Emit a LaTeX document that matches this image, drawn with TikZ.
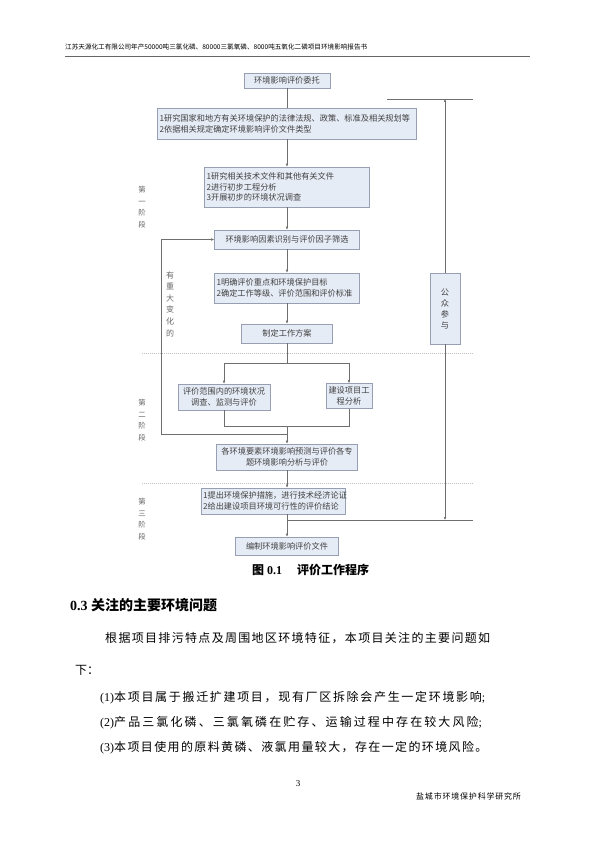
\documentclass[tikz,border=0pt]{standalone}
\usepackage{fontspec}
\setmainfont{Liberation Serif}
\newfontfamily\cjk{Noto Sans CJK SC}
\usepackage[svgnames]{xcolor}
\usetikzlibrary{arrows.meta, calc, positioning}

\definecolor{boxfill}{RGB}{230,236,246}
\definecolor{boxline}{RGB}{150,160,178}
\definecolor{flowline}{RGB}{110,110,110}

\begin{document}
\begin{tikzpicture}[x=1pt, y=-1pt,
    box/.style={draw=boxline, fill=boxfill, line width=0.6pt, inner sep=2pt,
        font=\cjk\fontsize{8.2}{10.8}\selectfont, text=black!75},
    lbox/.style={box, align=left},
    cbox/.style={box, align=center},
    flow/.style={draw=flowline, line width=0.5pt},
    arr/.style={flow, -{Latex[length=3pt,width=2.6pt]}},
    stage/.style={font=\cjk\fontsize{7.4}{11.6}\selectfont, text=black!60, align=center},
    sep/.style={draw=black!25, dash pattern=on 1pt off 1pt, line width=0.4pt},
    body/.style={anchor=west, inner sep=0pt, font=\fontsize{12}{14}\selectfont}]

    \useasboundingbox (0,0) rectangle (595,842);
    \fill[white] (0,0) rectangle (595,842);

    % page header
    \node[anchor=west, inner sep=0pt, font=\cjk\fontsize{6.6}{8}\selectfont] (head) at (65,47)
        {江苏天源化工有限公司年产50000吨三氯化磷、80000三氯氧磷、8000吨五氧化二磷项目环境影响报告书};
    \draw[black!60, line width=0.8pt] (65,56) -- (530,56);

    % flow chart boxes
    \node[cbox, minimum width=86, minimum height=15] (wt) at (287,80.5) {环境影响评价委托};
    \node[lbox, text width=255, minimum height=31] (fg) at (287,123.5)
        {1研究国家和地方有关环境保护的法律法规、政策、标准及相关规划等\\2依据相关规定确定环境影响评价文件类型};
    \node[lbox, text width=161, minimum height=40] (js) at (287,187)
        {1研究相关技术文件和其他有关文件\\2进行初步工程分析\\3开展初步的环境状况调查};
    \node[cbox, minimum width=145, minimum height=19] (sb) at (287,239.5) {环境影响因素识别与评价因子筛选};
    \node[lbox, text width=141, minimum height=30] (mq) at (287,288)
        {1明确评价重点和环境保护目标\\2确定工作等级、评价范围和评价标准};
    \node[cbox, minimum width=91, minimum height=19] (fa) at (287,333.5) {制定工作方案};
    \node[cbox, minimum width=92, minimum height=26] (dc) at (224,397) {评价范围内的环境状况\\调查、监测与评价};
    \node[cbox, minimum width=46, minimum height=25] (gc) at (349,396) {建设项目工\\程分析};
    \node[cbox, minimum width=141, minimum height=26] (yc) at (287,457)
        {各环境要素环境影响预测与评价各专\\题环境影响分析与评价};
    \node[lbox, text width=140, minimum height=26] (tc) at (273,501)
        {1提出环境保护措施，进行技术经济论证\\2给出建设项目环境可行性的评价结论};
    \node[cbox, minimum width=103, minimum height=18] (bz) at (287,546) {编制环境影响评价文件};
    \node[cbox, minimum width=30, minimum height=71, font=\cjk\fontsize{8.2}{11}\selectfont] (gz) at (445,308.5)
        {公\\众\\参\\与};

    % stage labels
    \node[stage] (s1) at (142,207) {第\\一\\阶\\段};
    \node[stage] (s2) at (142,420) {第\\二\\阶\\段};
    \node[stage] (s3) at (142,519) {第\\三\\阶\\段};
    \node[stage, font=\cjk\fontsize{8}{11.6}\selectfont] (bh) at (170,304) {有\\重\\大\\变\\化\\的};

    \foreach \y in {353,483}
        \draw[sep] (142,\y) -- (473,\y);

    % connectors
    \coordinate (split) at (287,363);
    \coordinate (merge) at (287,426);
    \coordinate (back) at (287,434);
    \coordinate (loop) at (161,434);
    \coordinate (ptl) at (387,99);
    \coordinate (ptr) at (473,99);
    \coordinate (ptop) at (445,99);
    \coordinate (pbl) at (287,520);
    \coordinate (pbr) at (473,520);
    \coordinate (pbot) at (445,520);

    \draw[flow] (wt) -- (fg);
    \draw[arr] (fg) -- (js);
    \draw[arr] (js) -- (sb);
    \draw[arr] (sb) -- (mq);
    \draw[arr] (mq) -- (fa);
    \draw[flow] (fa) -- (split);
    \draw[arr] (split) -| (dc);
    \draw[arr] (split) -| (gc);
    \draw[flow] (dc) |- (merge);
    \draw[flow] (gc) |- (merge);
    \draw[arr] (merge) -- (yc);
    \draw[arr] (back) -- (loop) |- (sb);
    \draw[arr] (yc) -- (yc |- tc.north);
    \draw[arr] (yc |- tc.south) -- (bz);
    \draw[flow] (ptl) -- (ptr);
    \draw[flow] (pbl) -- (pbr);
    \draw[arr] (gz) -- (ptop);
    \draw[arr] (gz) -- (pbot);

    % caption
    \node[anchor=west, inner sep=0pt, font=\fontsize{12}{14}\selectfont\bfseries] (cap) at (252,570)
        {{\cjk 图} 0.1\hspace{15pt}{\cjk 评价工作程序}};

    % text below
    \node[body, font=\fontsize{14}{16}\selectfont\bfseries] (h03) at (70,605)
        {0.3 {\cjk 关注的主要环境问题}};
    \node[body] (p1) at (105,638)
        {\cjk\addfontfeature{LetterSpace=11}根据项目排污特点及周围地区环境特征，本项目关注的主要问题如};
    \node[body] (p2) at (75,670) {\cjk 下：};
    \node[body] (i1) at (100,698)
        {(1){\cjk\addfontfeature{LetterSpace=14}本项目属于搬迁扩建项目，现有厂区拆除会产生一定环境影响};};
    \node[body] (i2) at (100,723)
        {(2){\cjk\addfontfeature{LetterSpace=17.5}产品三氯化磷、三氯氧磷在贮存、运输过程中存在较大风险};};
    \node[body] (i3) at (100,748)
        {(3){\cjk\addfontfeature{LetterSpace=11.5}本项目使用的原料黄磷、液氯用量较大，存在一定的环境风险。}};

    % page footer
    \node[inner sep=0pt, font=\fontsize{9}{10}\selectfont] (pg) at (298,784) {3};
    \node[anchor=west, inner sep=0pt, font=\cjk\fontsize{8}{10}\selectfont\addfontfeature{LetterSpace=10}] (inst) at (416,796)
        {盐城市环境保护科学研究所};
\end{tikzpicture}
\end{document}
